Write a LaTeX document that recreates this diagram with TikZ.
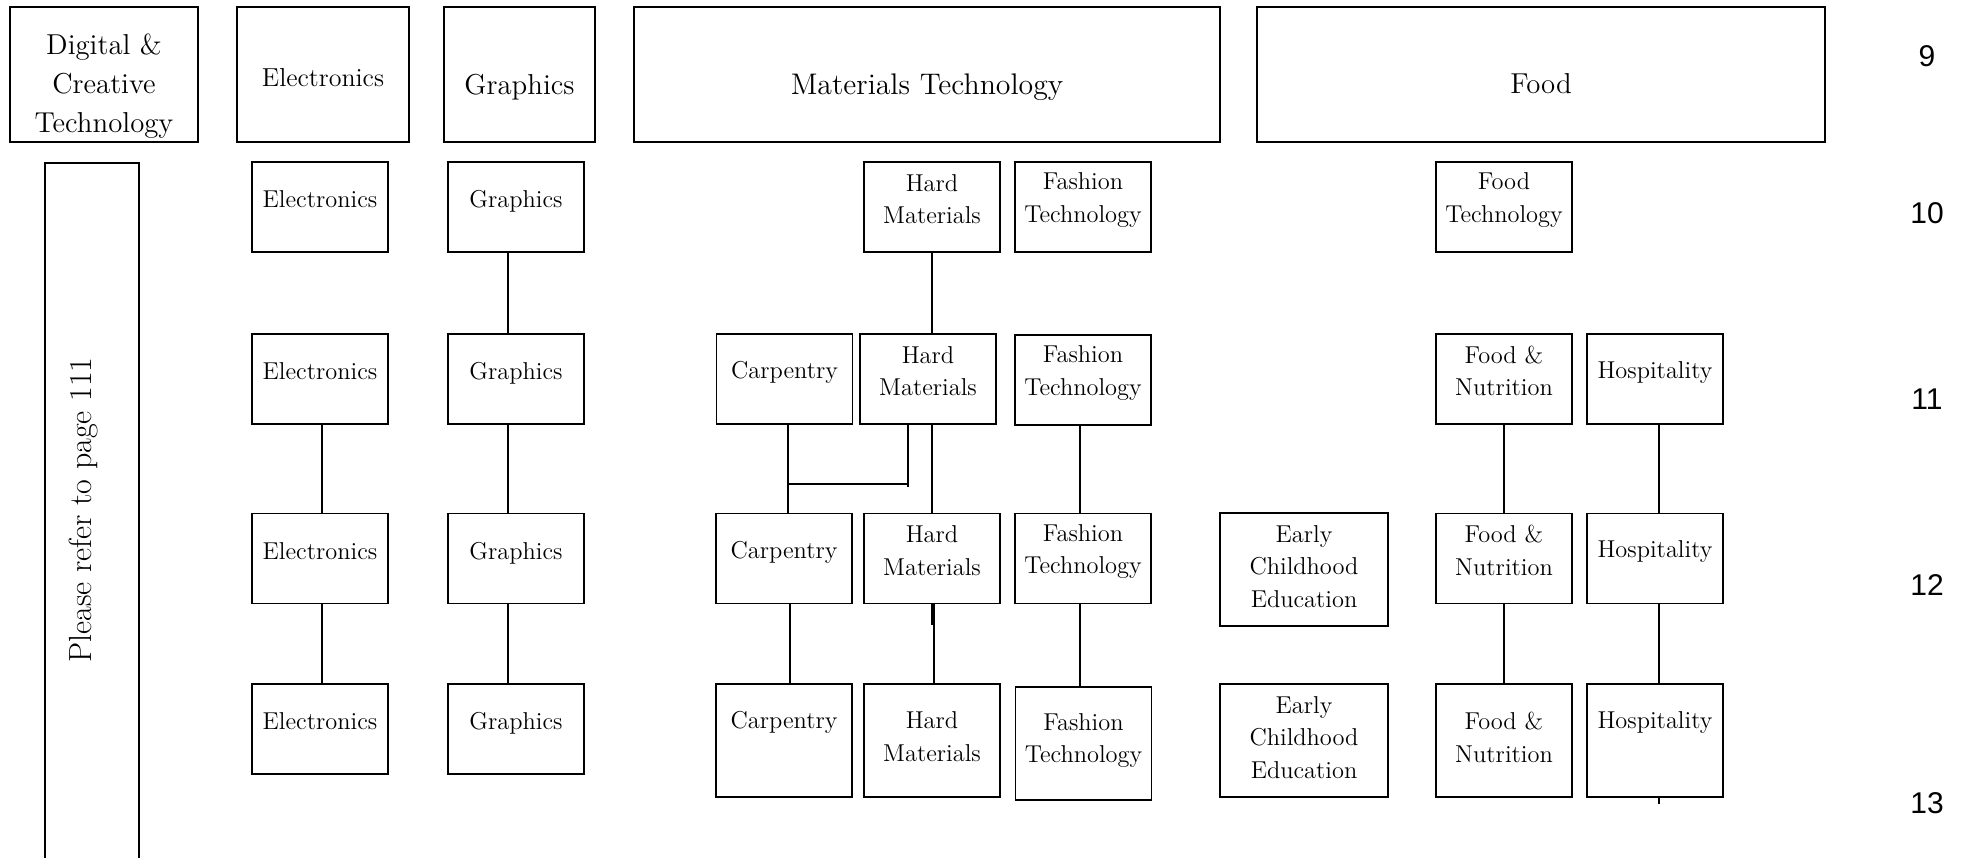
\documentclass[tikz,border=0pt]{standalone}
\usepackage{fontspec}
\newfontfamily\numfont{Liberation Sans}
\begin{document}
\begin{tikzpicture}[x=0.5pt,y=-0.5pt,
  hdr/.style={draw, line width=1.2pt, inner sep=0pt},
  bx/.style={draw, line width=0.9pt, inner sep=0pt, minimum width=68pt, minimum height=45pt},
  tall/.style={minimum height=56.5pt},
  txt/.style={align=center, font=\fontsize{12.2}{16.3}\selectfont, inner sep=0pt},
  htxt/.style={align=center, font=\fontsize{14.4}{19.5}\selectfont, inner sep=0pt},
  conn/.style={line width=0.85pt},
  num/.style={font=\numfont\fontsize{15}{18}\selectfont, inner sep=0pt}]
\useasboundingbox (0,0) rectangle (1968,857);
\clip (0,0) rectangle (1968,857);

% headers
\node[hdr, minimum width=94pt, minimum height=67.5pt, label={[htxt,yshift=-5.75pt]center:{Digital \&\\Creative\\Technology}}] (dig) at (104,74.5) {};
\node[hdr, minimum width=86pt, minimum height=67.5pt, label={[htxt,font=\fontsize{13}{16}\selectfont,yshift=-1.75pt]center:Electronics}] (elh) at (323,74.5) {};
\node[hdr, minimum width=75.5pt, minimum height=67.5pt, label={[htxt,yshift=-6.5pt]center:Graphics}] (grh) at (519.5,74.5) {};
\node[hdr, minimum width=293pt, minimum height=67.5pt, label={[htxt,font=\fontsize{14.9}{19.5}\selectfont,yshift=-6.5pt]center:Materials Technology}] (mat) at (927,74.5) {};
\node[hdr, minimum width=284pt, minimum height=67.5pt, label={[htxt,yshift=-4.5pt]center:Food}] (food) at (1541,74.5) {};

% please refer
\node[bx, minimum width=47pt, minimum height=360pt, anchor=north] (pr) at (92,162) {};
\node[rotate=90, inner sep=0pt, font=\fontsize{16}{19}\selectfont] (prt) at (84,510) {Please refer to page 111};

% row 10
\node[bx, label={[txt,yshift=3.75pt]center:Electronics}] (e10) at (320,207) {};
\node[bx, label={[txt,yshift=2.75pt]center:Graphics}] (g10) at (516,207) {};
\node[bx, label={[txt,yshift=4pt]center:{Hard\\Materials}}] (h10) at (932,207) {};
\node[bx, label={[txt,yshift=3.5pt]center:{Fashion\\Technology}}] (f10) at (1083,207) {};
\node[bx, label={[txt,yshift=3.5pt]center:{Food\\Technology}}] (ft10) at (1504,207) {};

% row 11
\node[bx, label={[txt,yshift=3.75pt]center:Electronics}] (e11) at (320,379) {};
\node[bx, label={[txt,yshift=2.75pt]center:Graphics}] (g11) at (516,379) {};
\node[bx, label={[txt,yshift=3.25pt]center:Carpentry}] (c11) at (784.5,379) {};
\node[bx, label={[txt,yshift=4pt]center:{Hard\\Materials}}] (h11) at (928,379) {};
\node[bx, label={[txt,yshift=3.5pt]center:{Fashion\\Technology}}] (f11) at (1083,380) {};
\node[bx, label={[txt,yshift=4pt]center:{Food \&\\Nutrition}}] (fn11) at (1504,379) {};
\node[bx, label={[txt,yshift=3.25pt]center:Hospitality}] (hp11) at (1655,379) {};

% row 12
\node[bx, label={[txt,yshift=3.75pt]center:Electronics}] (e12) at (320,558.5) {};
\node[bx, label={[txt,yshift=2.75pt]center:Graphics}] (g12) at (516,558.5) {};
\node[bx, label={[txt,yshift=3.25pt]center:Carpentry}] (c12) at (784,558.5) {};
\node[bx, label={[txt,yshift=4pt]center:{Hard\\Materials}}] (h12) at (932,558.5) {};
\node[bx, label={[txt,yshift=3.5pt]center:{Fashion\\Technology}}] (f12) at (1083,558.5) {};
\node[bx, tall, minimum width=84pt, label={[txt,yshift=1.5pt]center:{Early\\Childhood\\Education}}] (ece12) at (1304,569.5) {};
\node[bx, label={[txt,yshift=4pt]center:{Food \&\\Nutrition}}] (fn12) at (1504,558.5) {};
\node[bx, label={[txt,yshift=3.25pt]center:Hospitality}] (hp12) at (1655,558.5) {};

% row 13
\node[bx, label={[txt,yshift=3.75pt]center:Electronics}] (e13) at (320,729) {};
\node[bx, label={[txt,yshift=2.75pt]center:Graphics}] (g13) at (516,729) {};
\node[bx, tall, label={[txt,yshift=9pt]center:Carpentry}] (c13) at (784,740.5) {};
\node[bx, tall, label={[txt,yshift=2pt]center:{Hard\\Materials}}] (h13) at (932,740.5) {};
\node[bx, tall, label={[txt,yshift=1.5pt]center:{Fashion\\Technology}}] (f13) at (1083.5,743.5) {};
\node[bx, tall, minimum width=84pt, label={[txt,yshift=1.5pt]center:{Early\\Childhood\\Education}}] (ece13) at (1304,740.5) {};
\node[bx, tall, label={[txt,yshift=1.5pt]center:{Food \&\\Nutrition}}] (fn13) at (1504,740.5) {};
\node[bx, tall, label={[txt,yshift=9pt]center:Hospitality}] (hp13) at (1655,740.5) {};

% numbers
\node[num] (n9) at (1927,56) {9};
\node[num] (n10) at (1927,213) {10};
\node[num] (n11) at (1927,399) {11};
\node[num] (n12) at (1927,585) {12};
\node[num] (n13) at (1927,803) {13};

% connectors
\draw[conn] ([xshift=-4pt]g10.south) -- ([xshift=-4pt]g11.north);
\draw[conn] ([xshift=1pt]e11.south) -- ([xshift=1pt]e12.north);
\draw[conn] ([xshift=1pt]e12.south) -- ([xshift=1pt]e13.north);
\draw[conn] ([xshift=-4pt]g11.south) -- ([xshift=-4pt]g12.north);
\draw[conn] ([xshift=-4pt]g12.south) -- ([xshift=-4pt]g13.north);

\draw[conn] (h10.south) -- (h10.south |- h11.north);
\draw[conn] (h12.north |- h11.south) -- (h12.north);
\draw[conn] ([xshift=1.75pt]c11.south) -- ([xshift=1.75pt]c11.south |- c12.north);
\coordinate (jn) at (788,484);
\draw[conn] ([xshift=-10pt]h11.south) -- ([xshift=-10pt,yshift=-31pt]h11.south);
\draw[conn] (jn) -- ([xshift=-10pt]h11.south |- jn);
\draw[conn] ([xshift=3pt]c12.south) -- ([xshift=3pt]c12.south |- c13.north);
\draw[conn] ([xshift=1pt]h12.south) -- ([xshift=1pt]h13.north);
\draw[line width=1.1pt] (h12.south) -- ([yshift=-10.5pt]h12.south);

\draw[conn] ([xshift=-1.5pt]f11.south) -- ([xshift=-1.5pt]f12.north);
\draw[conn] ([xshift=-1.5pt]f12.south) -- ([xshift=-1.5pt]f12.south |- f13.north);
\draw[conn] (fn11.south) -- (fn12.north);
\draw[conn] (fn12.south) -- (fn13.north);
\draw[conn] ([xshift=2pt]hp11.south) -- ([xshift=2pt]hp12.north);
\draw[conn] ([xshift=2pt]hp12.south) -- ([xshift=2pt]hp13.north);
\coordinate (tk) at ([xshift=2pt,yshift=-3pt]hp13.south);
\draw[conn] ([xshift=2pt]hp13.south) -- (tk);
\end{tikzpicture}
\end{document}
